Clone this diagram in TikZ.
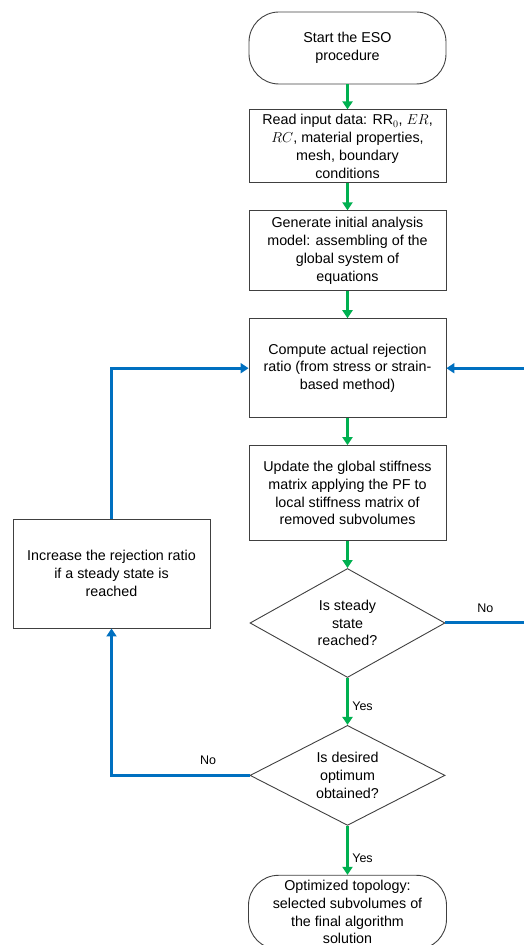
\documentclass[tikz,border=0pt]{standalone}
\usepackage{fontspec}
\setmainfont{Liberation Sans}
\usetikzlibrary{arrows.meta,positioning,shapes.geometric}
\definecolor{flowgreen}{HTML}{00B050}
\definecolor{loopblue}{HTML}{0070C0}

\begin{document}
\begin{tikzpicture}[x=1pt,y=1pt,>={Triangle[length=8pt,width=10pt]},node distance=27pt,
        font=\fontsize{14.3}{17.7}\selectfont]
        \tikzstyle{process}=[rectangle,draw=black!75,line width=0.9pt,minimum width=197pt,align=center,inner sep=2pt]
        \tikzstyle{terminal}=[process,rounded corners=30pt]
        \tikzstyle{decision}=[diamond,draw=black!75,line width=0.9pt,minimum width=195pt,aspect=1.8,inner sep=0pt,align=center]
        \tikzstyle{down}=[->,draw=flowgreen,line width=3pt]
        \tikzstyle{back}=[->,draw=loopblue,line width=3pt]
        \tikzstyle{answer}=[font=\fontsize{12.5}{15}\selectfont,text=black]
        \useasboundingbox (0,0) rectangle (523,945);

        \node[terminal,minimum height=72pt] (start) at (347.5,897) {Start the ESO\\procedure};
        \node[process,minimum height=73pt] (read) [below=25pt of start]
            {Read input data: $\mathrm{RR}_0$, $ER$,\\$RC$, material properties,\\mesh, boundary\\conditions};
        \node[process,minimum height=80pt] (model) [below=of read]
            {Generate initial analysis\\model: assembling of the\\global system of\\equations};
        \node[process,minimum height=99pt] (ratio) [below=of model]
            {Compute actual rejection\\ratio (from stress or strain-\\based method)};
        \node[process,minimum height=95pt] (update) [below=of ratio]
            {Update the global stiffness\\matrix applying the PF to\\local stiffness matrix of\\removed subvolumes};
        \node[decision,minimum height=109pt] (steady) [below=of update] {Is steady\\state\\reached?};
        \node[decision,minimum height=100pt] (optimum) [below=47pt of steady] {Is desired\\optimum\\obtained?};
        \node[terminal,minimum width=198pt,minimum height=74pt,inner sep=1pt] (final) [below=49pt of optimum]
            {Optimized topology:\\selected subvolumes of\\the final algorithm\\solution};

        \node[process,minimum height=109pt] (increase) at (111.5,371.5)
            {Increase the rejection ratio\\if a steady state is\\reached};
        \coordinate[right=80pt of steady.east] (rturn);

        % main flow
        \path (start) edge[down] (read)
        (read) edge[down] (model)
        (model) edge[down] (ratio)
        (ratio) edge[down] (update)
        (update) edge[down] (steady)
        (steady) edge[down] node[answer,right,pos=0.6] {Yes} (optimum)
        (optimum) edge[down] node[answer,right,pos=0.67] {Yes} (final);

        % loops back
        \draw[back] (steady.east) -- node[answer,above=6pt] {No} (rturn) |- (ratio.east);
        \draw[back] (optimum.west) -| node[answer,above=6pt,pos=0.15] {No} (increase.south);
        \draw[back] (increase.north) |- (ratio.west);
\end{tikzpicture}
\end{document}
